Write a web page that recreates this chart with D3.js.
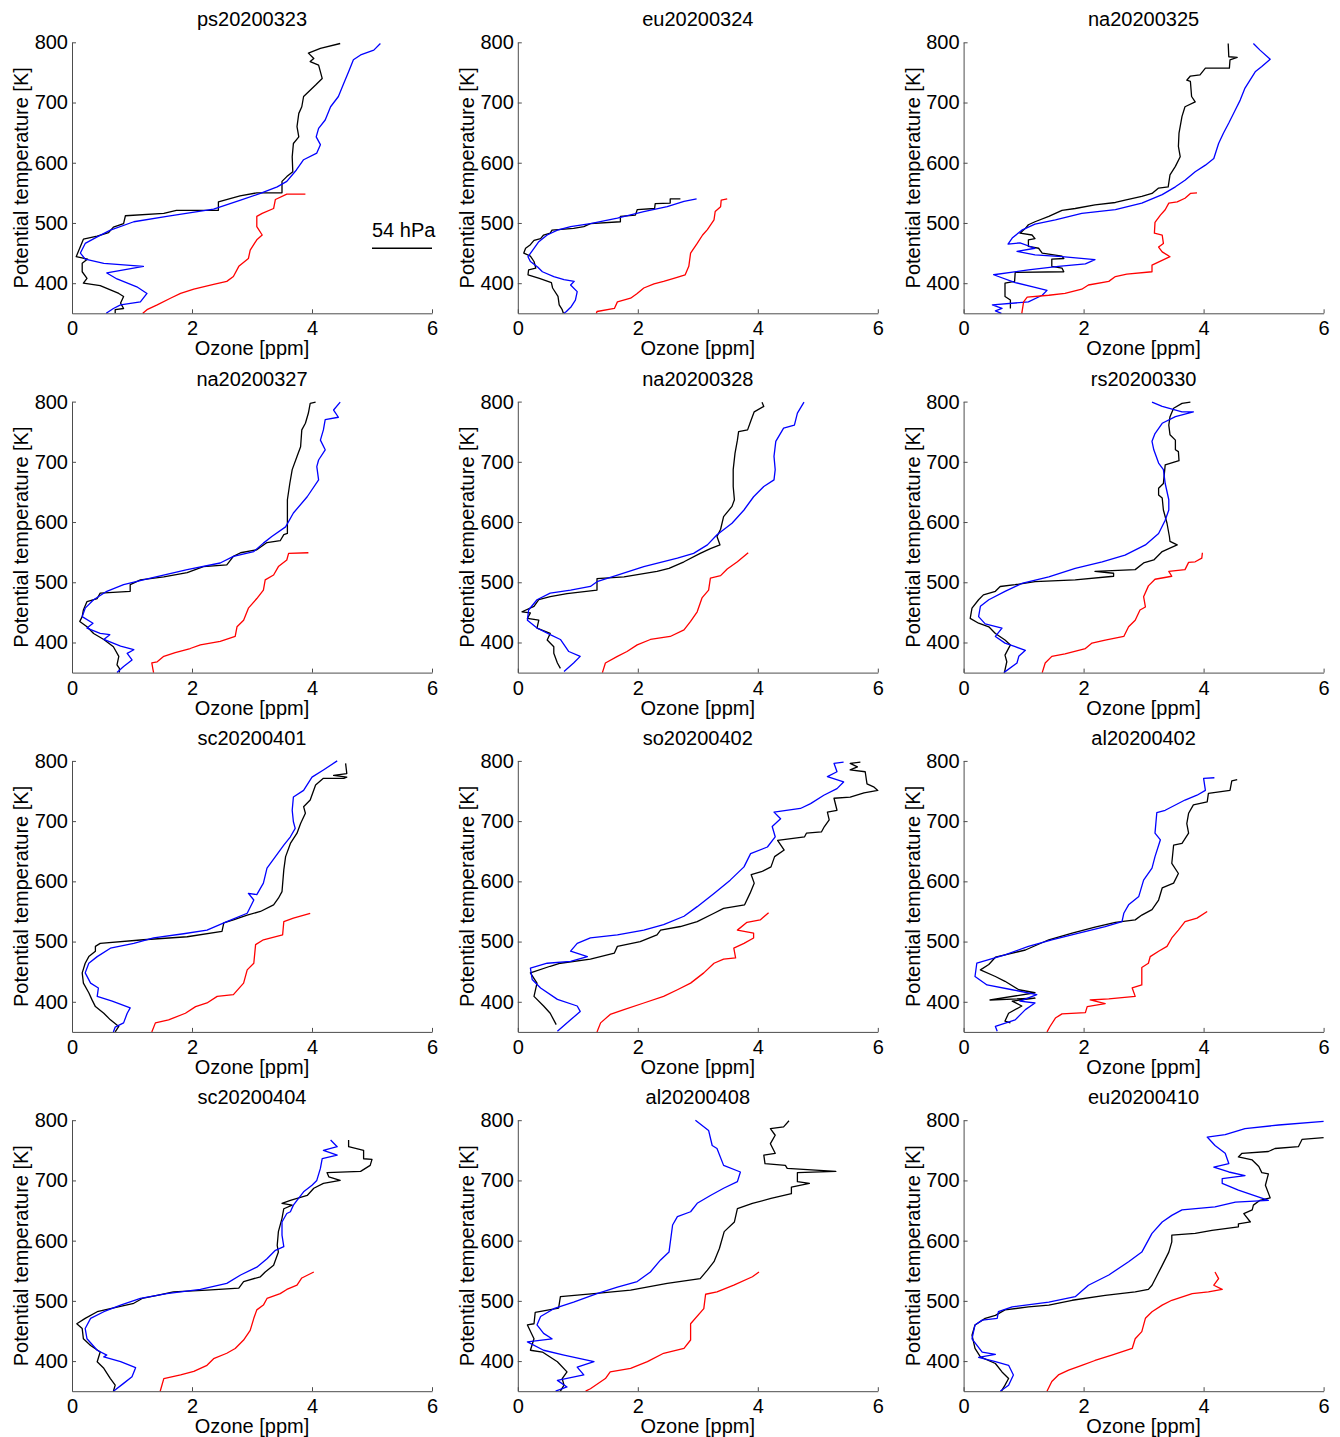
<!DOCTYPE html>
<html>
<head>
<meta charset="utf-8">
<script src="https://cdn.jsdelivr.net/npm/d3@7"></script>
<style>
body { margin: 0; background: #fff; }
text { font-family: "Liberation Sans", Arial, Helvetica, sans-serif; }
</style>
</head>
<body>
<div id="chart"></div>
<script>
// panel titles (flight / date)
var titles = ["ps20200323", "eu20200324", "na20200325",
              "na20200327", "na20200328", "rs20200330",
              "sc20200401", "so20200402", "al20200402",
              "sc20200404", "al20200408", "eu20200410"];

var xTicks = [0, 2, 4, 6];
var yTicks = [400, 500, 600, 700, 800];

// annotation in first panel: [ozone start, ozone end, theta of bar, theta of text]
var hpaLabel = "54 hPa";
var hpaBar = [5.0, 6.0, 458, 477];

// black profiles, [ozone ppm, potential temperature K]
var blackProfiles = [
  [[4.47,798],[4.14,790],[3.94,782],[4.03,773],[3.97,768],[4.11,762],[4.17,740],[4.06,729],[3.86,710],[3.83,693],[3.78,682],[3.75,660],[3.78,643],[3.69,632],[3.67,610],[3.68,585],[3.58,577],[3.5,569],[3.5,550],[3.08,550],[2.8,545],[2.44,535],[2.44,521],[1.74,521],[1.53,516],[0.89,512],[0.86,499],[0.69,493],[0.61,484],[0.42,478],[0.19,473],[0.14,461],[0.07,444],[0.26,440],[0.17,433],[0.17,419],[0.25,408],[0.19,400],[0.47,396],[0.64,389],[0.78,383],[0.86,378],[0.81,367],[0.86,358],[0.72,356],[0.72,350]],
  [[2.71,540],[2.54,540],[2.54,533],[2.29,532],[2.28,524],[1.99,522],[1.96,513],[1.71,511],[1.71,502],[1.21,499],[1.1,494],[0.93,491],[0.57,488],[0.54,483],[0.43,480],[0.38,474],[0.27,471],[0.21,464],[0.13,458],[0.1,450],[0.21,445],[0.27,436],[0.3,425],[0.18,422],[0.17,414],[0.36,408],[0.56,401],[0.58,392],[0.67,378],[0.69,364],[0.74,356],[0.76,350]],
  [[4.41,798],[4.42,776],[4.56,775],[4.44,771],[4.43,757],[4.03,757],[3.94,746],[3.78,744],[3.72,737],[3.78,735],[3.8,710],[3.86,701],[3.69,693],[3.64,677],[3.59,649],[3.58,627],[3.61,610],[3.53,594],[3.44,580],[3.41,560],[3.25,558],[3.14,549],[2.97,544],[2.69,538],[2.53,534],[2.19,530],[1.86,524],[1.64,521],[1.42,511],[1.19,502],[1.08,497],[1.03,491],[0.94,483],[1.14,480],[1.19,474],[1.08,472],[1.08,461],[1.25,458],[1.31,450],[1.64,445],[1.67,441],[1.47,440],[1.47,428],[1.64,425],[1.67,419],[0.86,418],[0.85,403],[0.69,400],[0.69,378],[0.78,372],[0.78,358]],
  [[4.06,799],[3.97,797],[3.94,781],[3.89,764],[3.83,753],[3.81,725],[3.75,709],[3.67,687],[3.63,664],[3.59,637],[3.59,581],[3.53,579],[3.47,569],[3.25,566],[3.08,554],[2.81,549],[2.69,543],[2.58,529],[2.19,526],[1.92,516],[1.53,509],[1.14,504],[0.97,496],[0.97,485],[0.47,482],[0.42,473],[0.25,468],[0.19,454],[0.17,443],[0.13,435],[0.25,426],[0.36,415],[0.53,405],[0.69,393],[0.78,377],[0.75,363],[0.79,357],[0.79,350]],
  [[4.07,799],[4.1,792],[3.94,783],[3.88,767],[3.83,753],[3.68,750],[3.66,736],[3.62,714],[3.59,687],[3.59,659],[3.61,637],[3.57,626],[3.43,609],[3.38,588],[3.32,576],[3.37,562],[3.21,556],[3.04,548],[2.77,534],[2.52,523],[2.32,518],[1.77,509],[1.32,506],[1.32,487],[0.82,481],[0.54,476],[0.35,471],[0.27,460],[0.07,451],[0.21,449],[0.16,440],[0.35,437],[0.32,424],[0.54,415],[0.49,404],[0.6,393],[0.6,382],[0.66,366],[0.71,357]],
  [[3.78,799],[3.64,797],[3.5,789],[3.44,775],[3.42,761],[3.44,745],[3.53,736],[3.53,720],[3.58,717],[3.59,702],[3.36,695],[3.33,664],[3.25,656],[3.25,645],[3.31,640],[3.33,620],[3.39,598],[3.43,576],[3.44,568],[3.56,562],[3.42,556],[3.31,551],[3.17,537],[3.0,532],[2.86,521],[2.19,518],[2.5,515],[2.5,510],[1.86,504],[1.19,501],[0.86,496],[0.61,493],[0.53,485],[0.33,479],[0.25,471],[0.14,457],[0.11,440],[0.25,432],[0.42,426],[0.53,415],[0.69,404],[0.78,396],[0.69,379],[0.72,368],[0.68,350]],
  [[4.56,796],[4.58,779],[4.36,776],[4.58,773],[4.53,771],[4.19,771],[4.06,760],[3.97,735],[3.86,724],[3.89,713],[3.81,696],[3.75,680],[3.64,663],[3.56,641],[3.53,619],[3.5,583],[3.44,572],[3.36,561],[3.14,550],[2.92,544],[2.69,536],[2.53,531],[2.5,517],[1.92,508],[1.19,503],[0.47,497],[0.39,492],[0.39,484],[0.28,475],[0.22,464],[0.17,448],[0.19,431],[0.28,415],[0.33,404],[0.39,392],[0.53,381],[0.64,370],[0.78,359],[0.72,350]],
  [[5.71,798],[5.54,796],[5.66,790],[5.54,785],[5.79,782],[5.82,762],[5.93,757],[6.0,751],[5.77,747],[5.54,740],[5.27,738],[5.32,718],[5.16,715],[5.19,702],[5.11,691],[5.06,682],[4.81,680],[4.78,674],[4.33,668],[4.44,652],[4.28,641],[4.22,624],[4.06,616],[3.89,611],[3.94,597],[3.87,580],[3.78,561],[3.43,555],[3.27,547],[2.99,533],[2.71,525],[2.38,519],[2.32,511],[2.04,500],[1.66,492],[1.61,481],[1.21,471],[0.71,464],[0.54,459],[0.21,448],[0.32,431],[0.27,409],[0.43,393],[0.54,381],[0.64,362]],
  [[4.56,769],[4.47,767],[4.44,751],[4.08,746],[4.06,732],[3.83,727],[3.75,713],[3.72,696],[3.75,680],[3.64,663],[3.5,660],[3.47,630],[3.58,613],[3.5,597],[3.31,589],[3.25,569],[3.14,553],[2.97,544],[2.86,536],[2.53,532],[2.19,524],[1.81,514],[1.42,503],[1.03,486],[0.69,478],[0.53,474],[0.42,462],[0.28,453],[0.53,442],[0.69,434],[0.92,420],[1.19,415],[0.44,403],[1.19,406],[0.81,401],[0.97,393],[0.75,381],[0.69,368],[0.78,365]],
  [[4.61,767],[4.61,756],[4.86,750],[4.86,736],[5.0,735],[4.97,725],[4.81,715],[4.25,713],[4.28,706],[4.47,700],[4.19,695],[4.03,687],[3.92,675],[3.64,667],[3.5,662],[3.67,659],[3.53,653],[3.5,637],[3.44,615],[3.42,592],[3.44,581],[3.36,559],[3.22,548],[3.14,540],[2.86,532],[2.78,521],[2.25,518],[1.69,515],[1.42,509],[1.17,504],[1.03,496],[0.64,487],[0.42,482],[0.22,471],[0.08,462],[0.17,454],[0.19,437],[0.31,426],[0.47,415],[0.42,399],[0.53,388],[0.64,371],[0.72,360],[0.69,350]],
  [[4.52,799],[4.43,789],[4.21,786],[4.29,775],[4.21,761],[4.29,745],[4.1,742],[4.12,728],[4.46,725],[4.49,720],[5.3,715],[4.66,713],[4.66,698],[4.86,695],[4.56,689],[4.56,678],[4.22,670],[3.91,662],[3.66,653],[3.61,631],[3.44,615],[3.36,587],[3.27,565],[3.16,551],[3.04,537],[2.49,529],[1.88,518],[1.27,512],[0.71,507],[0.68,488],[0.29,481],[0.27,462],[0.16,460],[0.27,437],[0.21,418],[0.41,415],[0.66,399],[0.82,382],[0.74,371],[0.77,360],[0.71,350]],
  [[6.0,771],[5.64,768],[5.58,756],[5.19,753],[5.08,748],[4.64,745],[4.58,739],[4.81,734],[4.92,723],[4.97,713],[5.08,711],[5.03,692],[5.11,671],[4.94,667],[4.83,659],[4.81,651],[4.67,645],[4.78,631],[4.58,628],[4.58,623],[4.14,617],[3.86,612],[3.47,609],[3.47,598],[3.42,581],[3.31,559],[3.14,526],[3.08,519],[2.86,515],[2.36,509],[1.81,501],[1.42,493],[1.08,490],[0.69,485],[0.53,476],[0.36,471],[0.19,460],[0.14,443],[0.19,421],[0.28,407],[0.53,396],[0.64,382],[0.75,371],[0.69,360],[0.63,350]]
];

// blue profiles
var blueProfiles = [
  [[5.14,798],[5.03,787],[4.81,779],[4.69,771],[4.61,751],[4.53,732],[4.44,710],[4.31,693],[4.22,671],[4.11,657],[4.07,643],[4.14,630],[4.08,616],[3.86,605],[3.74,588],[3.58,569],[3.42,560],[3.14,549],[2.81,538],[2.36,523],[1.58,511],[1.03,502],[0.64,488],[0.42,477],[0.22,466],[0.14,450],[0.22,440],[0.53,433],[1.19,428],[0.58,417],[0.75,407],[1.08,394],[1.25,383],[1.14,369],[0.81,364],[0.69,358],[0.57,350]],
  [[2.98,540],[2.77,536],[2.49,527],[2.1,519],[1.66,508],[1.21,499],[0.88,494],[0.66,488],[0.49,480],[0.35,469],[0.27,458],[0.17,444],[0.21,436],[0.33,427],[0.41,419],[0.6,411],[0.77,406],[0.94,403],[0.88,397],[0.99,386],[0.96,372],[0.89,361],[0.81,353],[0.77,350]],
  [[4.83,798],[4.94,787],[5.11,772],[4.97,760],[4.86,751],[4.69,724],[4.61,704],[4.53,688],[4.42,666],[4.33,649],[4.25,632],[4.17,607],[4.03,596],[3.86,585],[3.69,571],[3.53,560],[3.31,547],[2.97,533],[2.53,522],[1.97,516],[1.53,505],[1.19,498],[0.97,488],[0.81,475],[0.74,465],[0.94,467],[1.19,458],[0.89,453],[1.19,447],[1.64,444],[2.19,439],[2.03,432],[1.58,428],[1.08,422],[0.5,414],[0.86,401],[1.19,393],[1.39,388],[1.31,380],[1.08,369],[0.48,364],[0.64,358],[0.53,354],[0.63,350]],
  [[4.47,799],[4.36,786],[4.44,774],[4.22,770],[4.19,753],[4.14,736],[4.22,720],[4.11,703],[4.08,692],[4.11,670],[3.92,642],[3.69,615],[3.56,592],[3.33,576],[3.19,565],[3.03,551],[2.69,543],[2.47,532],[1.92,521],[1.31,507],[0.86,496],[0.58,485],[0.36,471],[0.22,457],[0.17,443],[0.35,432],[0.25,424],[0.47,415],[0.63,413],[0.53,405],[0.81,394],[1.03,388],[0.92,382],[1.0,371],[0.86,360],[0.75,350]],
  [[4.77,799],[4.66,781],[4.61,761],[4.43,756],[4.3,734],[4.27,709],[4.29,687],[4.27,670],[4.1,659],[3.93,642],[3.77,620],[3.57,598],[3.32,579],[3.16,562],[2.93,548],[2.66,540],[2.1,526],[1.66,512],[1.32,501],[1.21,493],[0.88,487],[0.54,482],[0.32,471],[0.18,454],[0.16,437],[0.32,424],[0.54,413],[0.71,405],[0.85,385],[1.04,377],[0.93,366],[0.77,352]],
  [[3.14,799],[3.31,792],[3.64,783],[3.83,783],[3.53,775],[3.31,764],[3.19,747],[3.14,734],[3.17,720],[3.25,698],[3.33,687],[3.36,664],[3.42,637],[3.42,620],[3.36,603],[3.25,581],[3.03,562],[2.69,545],[2.31,534],[1.86,523],[1.42,509],[0.97,498],[0.69,485],[0.42,471],[0.28,460],[0.25,443],[0.36,431],[0.64,424],[0.53,410],[0.69,399],[0.86,393],[1.03,387],[0.92,377],[0.89,366],[0.67,350]],
  [[4.42,800],[4.19,785],[4.0,773],[3.86,751],[3.69,740],[3.67,718],[3.69,699],[3.72,688],[3.64,674],[3.53,660],[3.39,641],[3.25,622],[3.19,597],[3.08,578],[2.94,580],[3.03,569],[2.92,547],[2.58,533],[2.25,519],[1.86,513],[1.36,506],[1.03,497],[0.64,489],[0.42,475],[0.28,464],[0.22,448],[0.31,431],[0.44,423],[0.42,409],[0.67,401],[0.97,390],[0.92,381],[0.86,365],[0.72,358],[0.69,350]],
  [[5.43,798],[5.27,796],[5.32,782],[5.16,774],[5.43,765],[5.32,754],[5.1,743],[4.88,729],[4.71,721],[4.27,715],[4.38,704],[4.24,691],[4.29,674],[4.16,657],[3.88,646],[3.77,624],[3.54,602],[3.27,580],[2.99,558],[2.77,542],[2.43,528],[2.1,519],[1.66,511],[1.21,506],[0.99,497],[0.88,484],[1.16,475],[0.88,467],[0.49,464],[0.21,456],[0.24,437],[0.38,423],[0.66,404],[0.99,393],[1.04,384],[0.88,370],[0.66,351]],
  [[4.18,772],[4.0,771],[4.03,751],[3.89,743],[3.69,735],[3.36,718],[3.22,714],[3.19,680],[3.28,669],[3.19,641],[3.14,622],[3.0,602],[2.92,575],[2.75,561],[2.67,547],[2.64,533],[2.36,525],[1.92,514],[1.47,503],[1.08,492],[0.69,478],[0.42,470],[0.22,464],[0.19,442],[0.39,428],[0.81,420],[1.22,412],[0.94,401],[1.19,398],[1.03,387],[0.86,370],[0.53,359],[0.56,351]],
  [[4.31,767],[4.42,756],[4.19,750],[4.42,742],[4.17,736],[4.14,720],[4.08,700],[4.0,692],[3.86,681],[3.75,667],[3.69,659],[3.64,648],[3.58,645],[3.5,631],[3.5,609],[3.53,590],[3.39,584],[3.25,570],[3.08,556],[2.81,543],[2.58,529],[2.14,519],[1.58,512],[1.14,504],[0.81,493],[0.53,482],[0.31,471],[0.22,454],[0.25,437],[0.42,418],[0.58,410],[0.53,407],[0.81,399],[1.06,389],[1.0,374],[0.86,363],[0.69,350]],
  [[2.96,800],[3.18,783],[3.24,758],[3.32,753],[3.43,725],[3.71,714],[3.66,698],[3.43,687],[3.21,675],[2.99,662],[2.88,648],[2.66,640],[2.58,626],[2.52,581],[2.38,568],[2.21,548],[1.99,532],[1.66,523],[1.32,512],[0.93,498],[0.6,487],[0.38,474],[0.32,460],[0.43,446],[0.57,437],[0.16,432],[0.43,418],[0.77,410],[1.27,399],[0.99,390],[1.1,377],[0.66,368],[0.82,357],[0.63,350]],
  [[6.0,798],[5.25,792],[4.69,786],[4.36,776],[4.06,772],[4.19,758],[4.36,745],[4.42,728],[4.17,722],[4.42,714],[4.69,708],[4.31,703],[4.31,695],[4.58,684],[5.08,667],[4.53,664],[4.19,656],[3.64,651],[3.47,642],[3.31,631],[3.14,612],[2.97,581],[2.75,565],[2.42,543],[2.08,526],[1.86,507],[1.42,498],[0.81,490],[0.58,482],[0.56,471],[0.31,468],[0.19,460],[0.14,437],[0.31,415],[0.53,411],[0.25,406],[0.53,399],[0.75,393],[0.83,377],[0.75,360],[0.61,350]]
];

// red profiles
var redProfiles = [
  [[3.89,548],[3.58,548],[3.39,539],[3.36,524],[3.17,516],[3.08,511],[3.08,494],[3.17,480],[3.08,472],[2.97,455],[2.94,441],[2.78,428],[2.69,411],[2.58,403],[2.36,398],[2.03,390],[1.81,383],[1.64,375],[1.42,364],[1.25,356],[1.18,350]],
  [[3.49,540],[3.39,538],[3.38,527],[3.29,519],[3.27,505],[3.16,489],[3.08,480],[2.99,466],[2.88,450],[2.85,428],[2.79,414],[2.6,408],[2.43,403],[2.27,399],[2.1,392],[1.99,383],[1.88,375],[1.66,369],[1.61,358],[1.32,353],[1.31,350]],
  [[3.89,550],[3.78,549],[3.69,541],[3.56,535],[3.42,533],[3.36,522],[3.28,513],[3.19,501],[3.18,483],[3.31,480],[3.33,466],[3.25,460],[3.31,452],[3.44,444],[3.14,430],[3.14,419],[2.72,415],[2.53,411],[2.42,403],[2.08,397],[1.97,390],[1.69,383],[1.42,380],[1.06,377],[1.0,369],[0.97,350]],
  [[3.94,549],[3.61,548],[3.58,537],[3.44,526],[3.36,512],[3.22,504],[3.19,487],[3.08,473],[2.94,457],[2.86,437],[2.75,426],[2.72,410],[2.47,402],[2.14,396],[1.97,390],[1.72,383],[1.53,377],[1.42,368],[1.33,366],[1.35,355],[1.36,350]],
  [[3.84,549],[3.66,534],[3.49,522],[3.38,511],[3.21,507],[3.18,487],[3.07,474],[2.99,451],[2.88,435],[2.77,421],[2.54,410],[2.21,405],[1.99,396],[1.82,385],[1.66,377],[1.46,366],[1.41,350]],
  [[3.98,549],[3.97,540],[3.86,534],[3.75,533],[3.69,521],[3.42,518],[3.47,510],[3.19,505],[3.08,494],[3.0,476],[3.03,459],[2.94,454],[2.86,437],[2.75,426],[2.67,410],[2.36,404],[2.14,399],[2.03,390],[1.69,381],[1.47,377],[1.36,366],[1.31,350]],
  [[3.97,547],[3.69,539],[3.53,533],[3.51,511],[3.19,503],[3.06,495],[3.03,464],[2.92,453],[2.86,431],[2.69,412],[2.42,409],[2.25,398],[2.06,392],[1.89,381],[1.61,370],[1.39,365],[1.33,350]],
  [[4.18,548],[4.04,536],[3.82,532],[3.66,519],[3.93,514],[3.93,506],[3.77,497],[3.6,489],[3.63,473],[3.43,471],[3.27,464],[3.1,448],[2.88,431],[2.66,420],[2.43,409],[2.1,398],[1.77,387],[1.54,379],[1.38,365],[1.32,350]],
  [[4.06,550],[3.89,539],[3.69,533],[3.58,519],[3.47,506],[3.39,492],[3.25,484],[3.11,475],[3.08,464],[2.97,457],[2.97,428],[2.81,423],[2.86,409],[2.42,405],[2.11,403],[2.36,397],[2.06,392],[2.03,382],[1.64,380],[1.53,373],[1.44,359],[1.39,350]],
  [[4.03,548],[3.83,538],[3.75,526],[3.58,519],[3.47,512],[3.25,504],[3.19,493],[3.08,485],[3.03,471],[2.97,451],[2.86,435],[2.72,421],[2.58,413],[2.36,404],[2.25,393],[2.03,383],[1.81,377],[1.53,371],[1.47,350]],
  [[4.02,548],[3.91,540],[3.6,526],[3.32,515],[3.13,511],[3.1,487],[2.88,462],[2.88,435],[2.77,421],[2.43,413],[2.16,399],[1.88,388],[1.54,382],[1.46,371],[1.21,354],[1.13,350]],
  [[4.19,548],[4.25,537],[4.17,526],[4.31,519],[4.08,515],[3.81,512],[3.47,501],[3.31,493],[3.14,482],[3.03,471],[2.97,449],[2.86,437],[2.81,421],[2.47,410],[2.19,401],[1.97,393],[1.75,385],[1.58,377],[1.47,366],[1.39,350]]
];

var W = 1340, H = 1437;
var w = 360, h = 271;
var left0 = 72, colStep = 445.8, top0 = 42.3, rowStep = 359.3;
var fontSize = 20;
var axisColor = "#4d4d4d";

var svg = d3.select("#chart")
    .append("svg")
    .attr("width", W)
    .attr("height", H);

svg.append("rect")
    .attr("width", W)
    .attr("height", H)
    .attr("fill", "#fff");

var xScale = d3.scaleLinear().domain([0, 6]).range([0, w]);
var yScale = d3.scaleLinear().domain([350, 800]).range([h, 0]);

var line = d3.line()
    .x(function(d) { return xScale(d[0]); })
    .y(function(d) { return yScale(d[1]); });

var series = [
    { data: blackProfiles, color: "#000000" },
    { data: blueProfiles, color: "#0000ff" },
    { data: redProfiles, color: "#ff0000" }
];

titles.forEach(function(title, i) {
    var col = i % 3, row = Math.floor(i / 3);
    var g = svg.append("g")
        .attr("class", "panel")
        .attr("transform", "translate(" + (left0 + col * colStep) + "," + (top0 + row * rowStep) + ")");

    // profiles
    series.forEach(function(s) {
        g.append("path")
            .datum(s.data[i])
            .attr("fill", "none")
            .attr("stroke", s.color)
            .attr("stroke-width", 1.3)
            .attr("stroke-linejoin", "round")
            .attr("d", line);
    });

    // x axis
    var xAxis = d3.axisBottom(xScale)
        .tickValues(xTicks)
        .tickFormat(d3.format("d"))
        .tickSizeInner(-4)
        .tickSizeOuter(0)
        .tickPadding(8);
    var xg = g.append("g")
        .attr("class", "x axis")
        .attr("transform", "translate(0," + h + ")")
        .call(xAxis);

    // y axis
    var yAxis = d3.axisLeft(yScale)
        .tickValues(yTicks)
        .tickFormat(d3.format("d"))
        .tickSizeInner(-4)
        .tickSizeOuter(0)
        .tickPadding(4);
    var yg = g.append("g")
        .attr("class", "y axis")
        .call(yAxis);

    [xg, yg].forEach(function(a) {
        a.attr("font-size", fontSize)
         .attr("font-family", "'Liberation Sans', Arial, sans-serif");
        a.select(".domain").attr("stroke", axisColor);
        a.selectAll(".tick line").attr("stroke", axisColor);
        a.selectAll(".tick text").attr("fill", "#000");
    });

    // title
    g.append("text")
        .attr("x", w / 2)
        .attr("y", -16)
        .attr("text-anchor", "middle")
        .attr("font-size", fontSize)
        .text(title);

    // x label
    g.append("text")
        .attr("x", w / 2)
        .attr("y", h + 42)
        .attr("text-anchor", "middle")
        .attr("font-size", fontSize)
        .text("Ozone [ppm]");

    // y label
    g.append("text")
        .attr("transform", "translate(-44," + (h / 2) + ") rotate(-90)")
        .attr("text-anchor", "middle")
        .attr("font-size", fontSize)
        .text("Potential temperature [K]");

    // pressure-level marker, first panel only
    if (i === 0) {
        g.append("line")
            .attr("x1", xScale(hpaBar[0]))
            .attr("x2", xScale(hpaBar[1]))
            .attr("y1", yScale(hpaBar[2]))
            .attr("y2", yScale(hpaBar[2]))
            .attr("stroke", "#000")
            .attr("stroke-width", 1.3);
        g.append("text")
            .attr("x", xScale(hpaBar[0]))
            .attr("y", yScale(hpaBar[3]))
            .attr("font-size", fontSize)
            .text(hpaLabel);
    }
});
</script>
</body>
</html>
